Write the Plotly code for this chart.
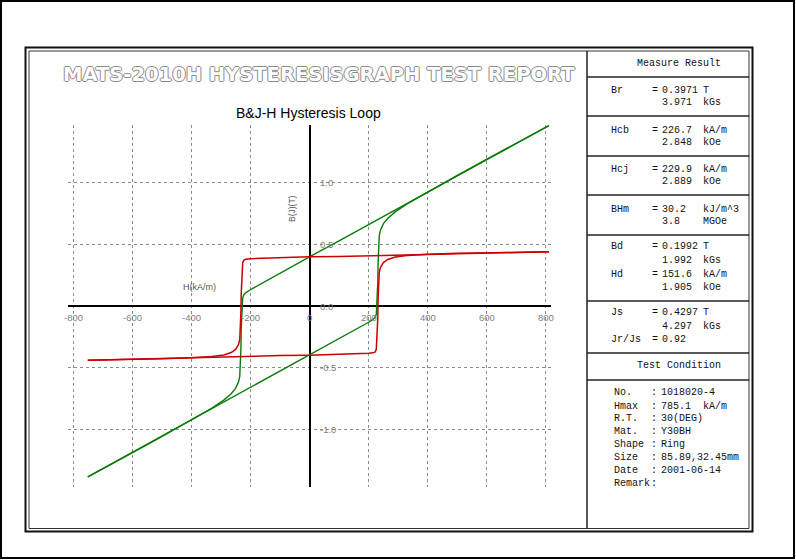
import plotly.graph_objects as go

W, H = 796, 560

# ---------------- data ----------------
# descending branch (from +Hmax to -Hmax)
H_desc = [810, 700, 600, 500, 400, 300, 200, 100, 0, -100, -200, -215, -222, -226, -229,
          -231, -232, -233, -234, -236, -240, -250, -265, -290, -330, -400, -500, -600, -750]
J_desc = [0.437, 0.433, 0.428, 0.422, 0.415, 0.409, 0.403, 0.400, 0.397, 0.392, 0.382, 0.378,
          0.370, 0.350, 0.250, 0.100, -0.050, -0.150, -0.220, -0.270, -0.310, -0.350, -0.375,
          -0.395, -0.408, -0.418, -0.426, -0.431, -0.437]
B_desc = [1.455, 1.313, 1.182, 1.050, 0.918, 0.786, 0.654, 0.526, 0.397, 0.266, 0.131, 0.108,
          0.091, 0.066, -0.038, -0.190, -0.342, -0.443, -0.514, -0.567, -0.612, -0.664, -0.708,
          -0.759, -0.823, -0.921, -1.054, -1.185, -1.379]
# ascending branch (from -Hmax to +Hmax)
H_asc = [-750, -600, -500, -400, -300, -200, -100, 0, 100, 200, 215, 222, 226, 229, 231, 232,
         233, 234, 236, 240, 250, 265, 290, 330, 400, 500, 600, 700, 810]
J_asc = [-0.437, -0.428, -0.422, -0.415, -0.409, -0.403, -0.400, -0.397, -0.392, -0.382, -0.378,
         -0.370, -0.350, -0.250, -0.100, 0.050, 0.150, 0.220, 0.270, 0.310, 0.350, 0.375, 0.395,
         0.408, 0.418, 0.426, 0.431, 0.434, 0.437]
B_asc = [-1.379, -1.182, -1.050, -0.918, -0.786, -0.654, -0.526, -0.397, -0.266, -0.131, -0.108,
         -0.091, -0.066, 0.038, 0.190, 0.342, 0.443, 0.514, 0.567, 0.612, 0.664, 0.708, 0.759,
         0.823, 0.921, 1.054, 1.185, 1.314, 1.455]

x_ticks = [-800, -600, -400, -200, 0, 200, 400, 600, 800]
x_tick_labels = ["-800", "-600", "-400", "-200", "0", "200", "400", "600", "800"]
y_ticks = [-1.0, -0.5, 0.0, 0.5, 1.0]
y_tick_labels = ["-1.0", "-0.5", "0.0", "0.5", "1.0"]

report_title = "MATS-2010H HYSTERESISGRAPH TEST REPORT"
chart_title = "B&J-H Hysteresis Loop"
x_title = "H(kA/m)"
y_title = "B(J)(T)"

measure_header = "Measure Result"
# (label, "=" , value, unit) per text line
measure_lines = [
    ("Br", "=", "0.3971", "T"),
    ("", "", "3.971", "kGs"),
    ("Hcb", "=", "226.7", "kA/m"),
    ("", "", "2.848", "kOe"),
    ("Hcj", "=", "229.9", "kA/m"),
    ("", "", "2.889", "kOe"),
    ("BHm", "=", "30.2", "kJ/m^3"),
    ("", "", "3.8", "MGOe"),
    ("Bd", "=", "0.1992", "T"),
    ("", "", "1.992", "kGs"),
    ("Hd", "=", "151.6", "kA/m"),
    ("", "", "1.905", "kOe"),
    ("Js", "=", "0.4297", "T"),
    ("", "", "4.297", "kGs"),
    ("Jr/Js", "=", "0.92", ""),
]
condition_header = "Test Condition"
condition_labels = ["No.", "Hmax", "R.T.", "Mat.", "Shape", "Size", "Date", "Remark"]
condition_values = ["1018020-4", "785.1  kA/m", "30(DEG)", "Y30BH", "Ring", "85.89,32.45mm",
                    "2001-06-14", ""]

# ---------------- layout helpers (pixel -> paper) ----------------
def PX(x):
    return x / W

def PY(y):
    return 1 - y / H

RED = "#cc0000"
GREEN = "#0a7a0a"
MONO = "Liberation Mono, Courier New, monospace"
SANS = "Arial, Liberation Sans, sans-serif"

fig = go.Figure()
fig.add_trace(go.Scatter(x=H_desc, y=B_desc, mode="lines", line=dict(color=GREEN, width=1.4),
                         hoverinfo="skip", showlegend=False))
fig.add_trace(go.Scatter(x=H_asc, y=B_asc, mode="lines", line=dict(color=GREEN, width=1.4),
                         hoverinfo="skip", showlegend=False))
fig.add_trace(go.Scatter(x=H_desc, y=J_desc, mode="lines", line=dict(color=RED, width=1.5),
                         hoverinfo="skip", showlegend=False))
fig.add_trace(go.Scatter(x=H_asc, y=J_asc, mode="lines", line=dict(color=RED, width=1.5),
                         hoverinfo="skip", showlegend=False))

shapes = []
# outer image border
shapes.append(dict(type="rect", xref="paper", yref="paper", x0=PX(1), x1=PX(794), y0=PY(1), y1=PY(558),
                   line=dict(color="black", width=2)))
# report frame (double line)
shapes.append(dict(type="rect", xref="paper", yref="paper", x0=PX(25.5), x1=PX(752.5), y0=PY(47.5),
                   y1=PY(531.5), line=dict(color="#111", width=2)))
shapes.append(dict(type="rect", xref="paper", yref="paper", x0=PX(29), x1=PX(749), y0=PY(51),
                   y1=PY(528.5), line=dict(color="#333", width=1)))
# table divider
shapes.append(dict(type="line", xref="paper", yref="paper", x0=PX(587), x1=PX(587), y0=PY(51),
                   y1=PY(528.5), line=dict(color="#222", width=1.5)))
for yy in [77, 116, 156, 195, 235, 301, 353, 380]:
    shapes.append(dict(type="line", xref="paper", yref="paper", x0=PX(587), x1=PX(749), y0=PY(yy),
                       y1=PY(yy), line=dict(color="#222", width=1.5)))

ann = []
# big outlined title
OUT = "#8a8a8a"
ann.append(dict(text=report_title, x=PX(319), y=PY(75), xref="paper", yref="paper", showarrow=False,
                xanchor="center", yanchor="middle",
                font=dict(family="DejaVu Sans", size=19.5, color="white", weight="bold",
                          shadow=f"1px 0 0 {OUT}, -1px 0 0 {OUT}, 0 1px 0 {OUT}, 0 -1px 0 {OUT}")))
# chart title
ann.append(dict(text=chart_title, x=PX(308.5), y=PY(112.5), xref="paper", yref="paper", showarrow=False,
                xanchor="center", yanchor="middle", font=dict(family=SANS, size=14, color="black")))
# axis titles
ann.append(dict(text=x_title, x=PX(200), y=PY(287), xref="paper", yref="paper", showarrow=False,
                xanchor="center", yanchor="middle", font=dict(family=SANS, size=9, color="#555")))
ann.append(dict(text=y_title, x=PX(292), y=PY(209), xref="paper", yref="paper", showarrow=False,
                textangle=-90, xanchor="center", yanchor="middle", font=dict(family=SANS, size=8.5, color="#555")))
# tick labels positioned at the crossing axes
for v, t in zip(x_ticks, x_tick_labels):
    ann.append(dict(text=t, x=v, y=0, xref="x", yref="y", showarrow=False, xanchor="center",
                    yanchor="middle", yshift=-11, font=dict(family=SANS, size=9.5, color="#808080")))
for v, t in zip(y_ticks, y_tick_labels):
    ann.append(dict(text=t, x=0, y=v, xref="x", yref="y", showarrow=False, xanchor="left",
                    yanchor="middle", xshift=8, font=dict(family=SANS, size=9.5, color="#808080")))

# table text
TFONT = dict(family=MONO, size=10, color="#111")
def tx(text, x, y, anchor="left"):
    if text:
        ann.append(dict(text=text, x=PX(x), y=PY(y), xref="paper", yref="paper", showarrow=False,
                        xanchor=anchor, yanchor="middle", font=TFONT))

tx(measure_header, 679, 63, "center")
measure_y = [90.7, 102.7, 130, 142.7, 169.3, 182, 209.3, 222, 246.7, 260.7, 274, 287.3, 312.7,
             326.7, 339.3]
for (lab, eq, val, unit), yy in zip(measure_lines, measure_y):
    tx(lab, 609, yy)
    tx(eq, 650, yy)
    tx(val, 660, yy)
    tx(unit, 701, yy)

tx(condition_header, 679, 365.7, "center")
cond_y = [392.7, 406, 418.3, 431.7, 444.3, 457.3, 470.7, 483.3]
for lab, val, yy in zip(condition_labels, condition_values, cond_y):
    tx(lab, 612, yy)
    tx(":", 649, yy)
    tx(val.replace(" ", "\u00a0"), 659, yy)

fig.update_layout(
    width=W, height=H, margin=dict(l=0, r=0, t=0, b=0),
    paper_bgcolor="white", plot_bgcolor="white",
    shapes=shapes, annotations=ann,
    xaxis=dict(domain=[PX(68), PX(551)], range=[-817, 817], tickvals=x_ticks, showticklabels=False,
               showgrid=True, gridcolor="#8c8c8c", griddash="dot", gridwidth=1,
               zeroline=True, zerolinecolor="black", zerolinewidth=2, showline=False, ticks=""),
    yaxis=dict(domain=[PY(487), PY(125)], range=[-1.46, 1.46], tickvals=y_ticks, showticklabels=False,
               showgrid=True, gridcolor="#8c8c8c", griddash="dot", gridwidth=1,
               zeroline=True, zerolinecolor="black", zerolinewidth=2, showline=False, ticks=""),
)

fig.write_html("out.html", config={"displayModeBar": False},
               post_script="document.body.style.margin='0';document.body.style.padding='0';"
                           "document.body.style.overflow='hidden';")
